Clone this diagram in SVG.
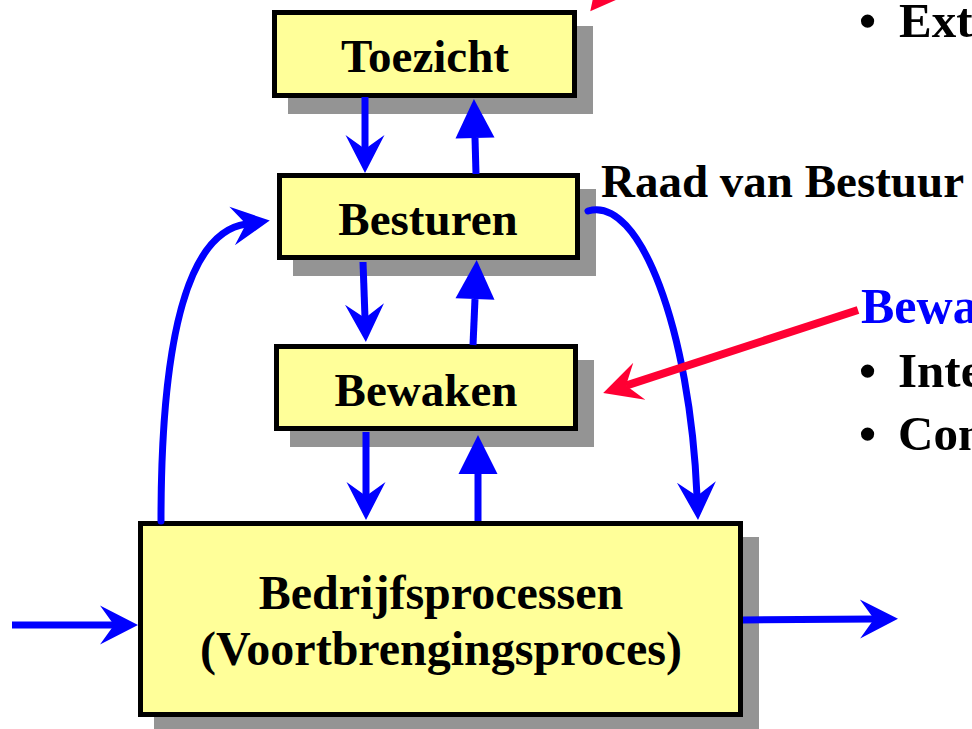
<svg xmlns="http://www.w3.org/2000/svg" width="972" height="729" viewBox="0 0 972 729">
<style>
.box{fill:#FFFF99;stroke:#000;stroke-width:5}
.shadow{fill:#949494}
.lbl{font-family:"Liberation Serif","Times New Roman",serif;font-weight:bold;font-size:47px;fill:#000;text-anchor:middle}
.big{font-size:48px}
.side{font-family:"Liberation Serif","Times New Roman",serif;font-weight:bold;fill:#000}
.blue{stroke:#0000FF;stroke-width:7;fill:none}
.red{stroke:#FF0033;stroke-width:8;fill:none}
</style>
<defs>
<marker id="barb" markerUnits="userSpaceOnUse" markerWidth="44" markerHeight="44" viewBox="-16 -22 44 44" refX="0" refY="0" orient="auto" overflow="visible">
<path d="M24,0 L-14,-19.5 L0,0 L-14,19.5 Z" fill="#0000FF"/>
</marker>
<marker id="barbRed" markerUnits="userSpaceOnUse" markerWidth="44" markerHeight="44" viewBox="-16 -22 44 44" refX="0" refY="0" orient="auto" overflow="visible">
<path d="M24,0 L-14,-19.5 L0,0 L-14,19.5 Z" fill="#FF0033"/>
</marker>
<marker id="tri" markerUnits="userSpaceOnUse" markerWidth="44" markerHeight="44" viewBox="-2 -22 44 44" refX="0" refY="0" orient="auto" overflow="visible">
<path d="M0,-19.5 L39,0 L0,19.5 Z" fill="#0000FF"/>
</marker>
</defs>

<g id="toezicht">
<rect class="shadow" x="288" y="26" width="305" height="88"/>
<rect class="box" x="274.5" y="12.5" width="300" height="83"/>
<text class="lbl" x="425" y="72">Toezicht</text>
</g>
<g id="besturen">
<rect class="shadow" x="293" y="189" width="303" height="87"/>
<rect class="box" x="279.5" y="175.5" width="298" height="82"/>
<text class="lbl" x="428" y="235">Besturen</text>
</g>
<g id="bewaken">
<rect class="shadow" x="290" y="360" width="304" height="87"/>
<rect class="box" x="276.5" y="346.5" width="299" height="82"/>
<text class="lbl" x="426" y="406">Bewaken</text>
</g>
<g id="bedrijfsprocessen">
<rect class="shadow" x="154" y="537" width="605" height="196"/>
<rect class="box" x="140.5" y="523.5" width="600" height="191"/>
<text class="lbl big" x="441" y="609">Bedrijfsprocessen</text>
<text class="lbl big" x="441" y="665">(Voortbrengingsproces)</text>
</g>

<g id="connectors">
<path class="blue" d="M365,97 L365,149" marker-end="url(#barb)"/>
<path class="blue" d="M476,174 L475,138" marker-end="url(#tri)"/>
<path class="blue" d="M363,262 L365,318" marker-end="url(#barb)"/>
<path class="blue" d="M473,345 L475,299" marker-end="url(#tri)"/>
<path class="blue" d="M366,432 L366,496" marker-end="url(#barb)"/>
<path class="blue" d="M478,521 L478,474" marker-end="url(#tri)"/>
<path class="blue" d="M12,625 L114,625" marker-end="url(#barb)"/>
<path class="blue" d="M743,620 L874,619" marker-end="url(#barb)"/>
<path class="blue" stroke-linecap="round" d="M161,521 C161,330 190,232 246,224" marker-end="url(#barb)"/>
<path class="blue" stroke-linecap="round" d="M588,211 C640,195 690,330 697,496" marker-end="url(#barb)"/>
<path class="red" d="M858,310 L626,385.6" marker-end="url(#barbRed)"/>
<path class="red" d="M640,-50 L605.4,-7.4" marker-end="url(#barbRed)"/>
</g>

<g id="annotations">
<text class="side" x="601" y="197" font-size="47">Raad van Bestuur</text>
<text class="side" x="859" y="37" font-size="49">•</text>
<text class="side" x="899" y="37" font-size="49">Ext</text>
<text class="side" x="861" y="323" font-size="50" fill="#0000FF" style="fill:#0000FF">Bewa</text>
<text class="side" x="859" y="387" font-size="49">•</text>
<text class="side" x="898" y="387" font-size="49">Inte</text>
<text class="side" x="859" y="450" font-size="49">•</text>
<text class="side" x="898" y="450" font-size="49">Con</text>
</g>
</svg>
